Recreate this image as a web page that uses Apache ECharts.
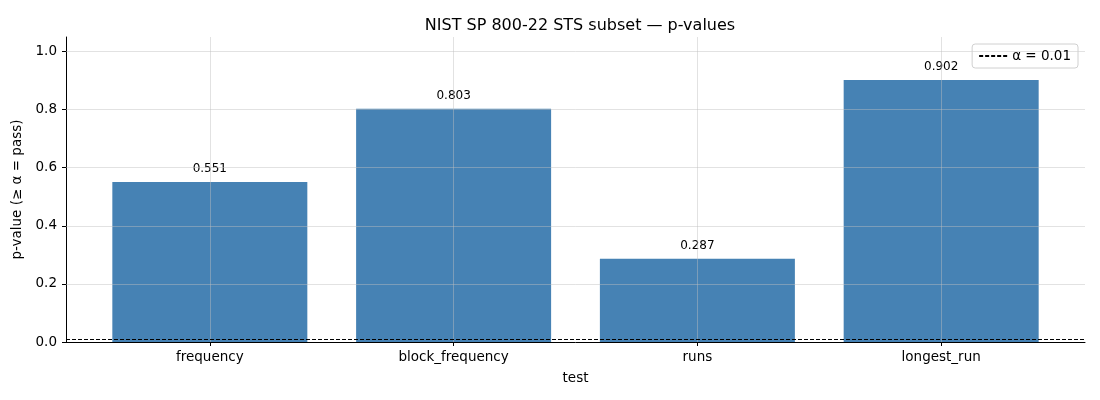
<!DOCTYPE html>
<html>
<head>
<meta charset="utf-8">
<script src="https://cdn.jsdelivr.net/npm/echarts@6/dist/echarts.min.js"></script>
<style>
  html, body { margin: 0; padding: 0; background: #fff; }
  #chart { width: 1100px; height: 400px; }
</style>
</head>
<body>
<div id="chart"></div>
<script>
// values
const categories = ['frequency', 'block_frequency', 'runs', 'longest_run'];
const pValues = [0.551, 0.803, 0.287, 0.902];
const alpha = 0.01;
const xTicks = [0, 1, 2, 3];
const yTicks = [0, 0.2, 0.4, 0.6, 0.8, 1.0];

const font = 'DejaVu Sans';
const gridColor = 'rgba(190,190,190,0.45)';

const chart = echarts.init(document.getElementById('chart'), null, { renderer: 'canvas' });

// grid lines go over the bars, like matplotlib does
const gridLines = []
  .concat(xTicks.map(x => ({ xAxis: x })))
  .concat(yTicks.slice(1).map(y => ({ yAxis: y })));

const option = {
  animation: false,
  textStyle: { fontFamily: font },
  title: {
    text: 'NIST SP 800-22 STS subset — p-values',
    left: 575, top: 13, textAlign: 'center',
    textStyle: { fontFamily: font, fontSize: 16, fontWeight: 'normal', color: '#000' }
  },
  legend: {
    right: 22, top: 44,
    data: ['α = 0.01'],
    itemWidth: 28, itemHeight: 2, itemGap: 4,
    padding: [5, 7, 5, 6],
    borderColor: '#d0d0d0', borderWidth: 1, borderRadius: 3,
    textStyle: { fontFamily: font, fontSize: 13.5, color: '#000' }
  },
  grid: { left: 66, right: 15, top: 37, bottom: 58 },
  xAxis: {
    type: 'value',
    min: -0.59, max: 3.59,
    name: 'test', nameLocation: 'middle', nameGap: 29,
    nameTextStyle: { fontFamily: font, fontSize: 13.5, color: '#000' },
    axisLine: { show: true, onZero: false, lineStyle: { color: '#000', width: 1 } },
    axisTick: { show: true, customValues: xTicks, length: 4, lineStyle: { color: '#000', width: 1 } },
    axisLabel: {
      customValues: xTicks, margin: 8,
      fontFamily: font, fontSize: 13.5, color: '#000',
      formatter: v => categories[Math.round(v)]
    },
    splitLine: { show: false }
  },
  yAxis: {
    type: 'value',
    min: 0, max: 1.05,
    name: 'p-value (≥ α = pass)', nameLocation: 'middle', nameGap: 39, nameRotate: 90,
    nameTextStyle: { fontFamily: font, fontSize: 13.5, color: '#000' },
    axisLine: { show: true, onZero: false, lineStyle: { color: '#000', width: 1 } },
    axisTick: { show: true, customValues: yTicks, length: 4, lineStyle: { color: '#000', width: 1 } },
    axisLabel: {
      customValues: yTicks, margin: 9,
      fontFamily: font, fontSize: 13.5, color: '#000',
      formatter: v => v.toFixed(1)
    },
    splitLine: { show: false }
  },
  series: [
    {
      type: 'bar',
      data: pValues.map((v, i) => [i, v]),
      barWidth: 195,
      itemStyle: { color: '#4682b4' },
      label: {
        show: true, position: 'top', distance: 7,
        fontFamily: font, fontSize: 12, color: '#000',
        formatter: p => p.value[1].toFixed(3)
      },
      markLine: {
        silent: true, symbol: 'none', z: 3,
        label: { show: false },
        lineStyle: { color: gridColor, width: 1, type: 'solid' },
        data: gridLines
      }
    },
    {
      name: 'α = 0.01',
      type: 'line',
      data: [],
      symbol: 'none',
      lineStyle: { color: '#000', width: 1.2, type: [4, 2] },
      itemStyle: { color: '#000' },
      markLine: {
        silent: true, symbol: 'none', z: 5,
        label: { show: false },
        lineStyle: { color: '#000', width: 1.2, type: [4, 2] },
        data: [{ yAxis: alpha }]
      }
    }
  ]
};

chart.setOption(option);
</script>
</body>
</html>
